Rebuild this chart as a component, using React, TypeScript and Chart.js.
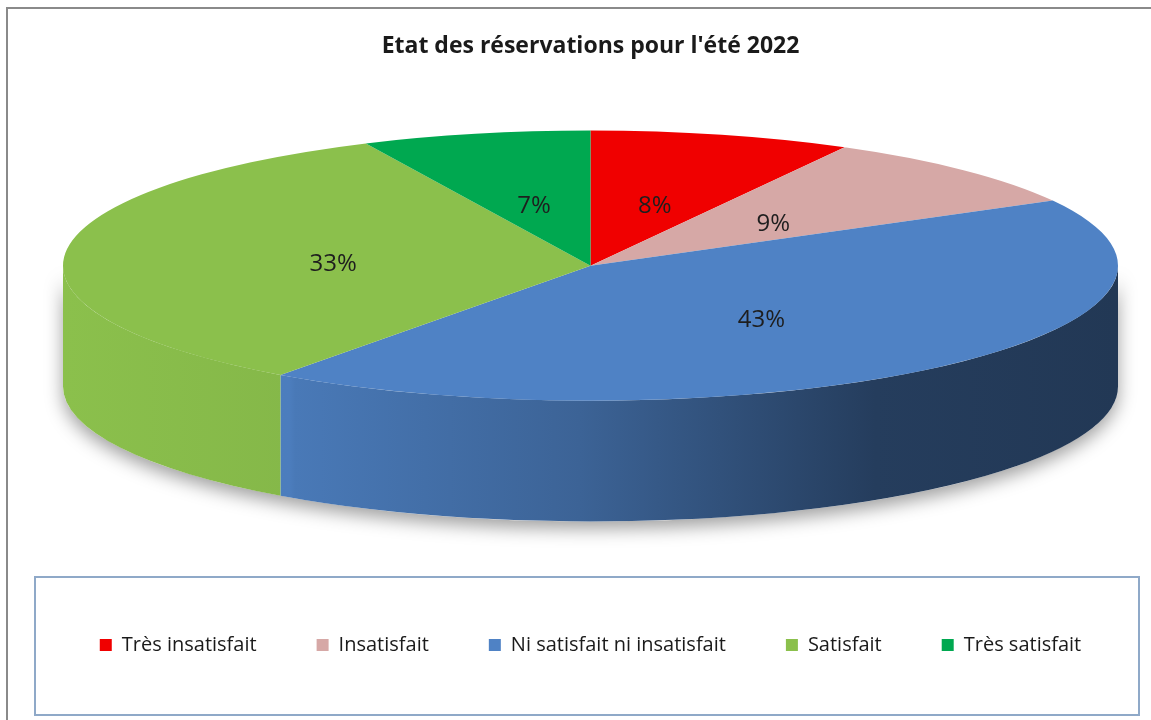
import React, { useEffect, useRef } from "react";
import { Chart, registerables } from "chart.js";

Chart.register(...registerables);

const TITLE = "Etat des réservations pour l'été 2022";
const categories = [
  "Très insatisfait",
  "Insatisfait",
  "Ni satisfait ni insatisfait",
  "Satisfait",
  "Très satisfait",
];
const values = [8, 9, 43, 33, 7];
const colors = ["#f00000", "#d6a8a6", "#4f82c5", "#8bc04c", "#00a850"];

// 3D look
const SIDE_INSET = 33; // horizontal gap between chart area and pie edge
const TILT = 0.256; // ry / rx
const DEPTH_RATIO = 0.229; // depth / rx
const LABEL_RADIUS = 0.49;
// lighting of the side wall across the width (0 = left edge, 1 = right edge)
const LIGHT: [number, number][] = [
  [0, 1.0],
  [0.215, 0.96],
  [0.22, 0.93],
  [0.49, 0.76],
  [0.77, 0.47],
  [1, 0.43],
];

function shade(hex: string, f: number) {
  const n = parseInt(hex.slice(1), 16);
  const r = Math.round(((n >> 16) & 255) * f);
  const g = Math.round(((n >> 8) & 255) * f);
  const b = Math.round((n & 255) * f);
  return `rgb(${r},${g},${b})`;
}

function geom(chart: any) {
  const a = chart.chartArea;
  const cx = (a.left + a.right) / 2;
  const rx = (a.right - a.left) / 2 - SIDE_INSET;
  const ry = rx * TILT;
  const cy = a.top + ry;
  const d = rx * DEPTH_RATIO;
  return { cx, cy, rx, ry, d };
}

const pie3d = {
  id: "pie3d",
  beforeDatasetsDraw(chart: any) {
    const ctx: CanvasRenderingContext2D = chart.ctx;
    const g = geom(chart);
    const meta = chart.getDatasetMeta(0);

    // soft shadow under the pie
    ctx.save();
    ctx.beginPath();
    ctx.ellipse(g.cx, g.cy, g.rx, g.ry, 0, 0, Math.PI);
    ctx.ellipse(g.cx, g.cy + g.d, g.rx, g.ry, 0, Math.PI, 0, true);
    ctx.closePath();
    ctx.shadowColor = "rgba(0,0,0,0.38)";
    ctx.shadowBlur = 18;
    ctx.shadowOffsetY = 7;
    ctx.fillStyle = "#ffffff";
    ctx.fill();
    ctx.restore();

    // side walls (front half only)
    meta.data.forEach((el: any, i: number) => {
      const a1 = Math.max(el.startAngle, 0);
      const a2 = Math.min(el.endAngle, Math.PI);
      if (a2 <= a1) return;
      const base = colors[i];
      const grad = ctx.createLinearGradient(g.cx - g.rx, 0, g.cx + g.rx, 0);
      LIGHT.forEach(([p, f]) => grad.addColorStop(p, shade(base, f)));
      ctx.save();
      ctx.beginPath();
      ctx.ellipse(g.cx, g.cy, g.rx, g.ry, 0, a1, a2);
      ctx.ellipse(g.cx, g.cy + g.d, g.rx, g.ry, 0, a2, a1, true);
      ctx.closePath();
      ctx.fillStyle = grad;
      ctx.fill();
      ctx.restore();
    });

    // squash the library's round pie into the ellipse of the top face
    const el0 = meta.data[0];
    const R = el0.outerRadius;
    ctx.save();
    ctx.translate(g.cx, g.cy);
    ctx.scale(g.rx / R, g.ry / R);
    ctx.translate(-el0.x, -el0.y);
  },
  afterDatasetsDraw(chart: any) {
    const ctx: CanvasRenderingContext2D = chart.ctx;
    ctx.restore();
    const g = geom(chart);
    const meta = chart.getDatasetMeta(0);
    const data = chart.data.datasets[0].data as number[];
    const total = data.reduce((s, v) => s + v, 0);
    ctx.save();
    ctx.font = "24px 'Open Sans', sans-serif";
    ctx.fillStyle = "#1e1e1e";
    ctx.textAlign = "center";
    ctx.textBaseline = "middle";
    meta.data.forEach((el: any, i: number) => {
      const mid = (el.startAngle + el.endAngle) / 2;
      const x = g.cx + g.rx * LABEL_RADIUS * Math.cos(mid);
      const y = g.cy + g.ry * LABEL_RADIUS * Math.sin(mid) + 5;
      ctx.fillText(`${Math.round((data[i] / total) * 100)}%`, x, y);
    });
    ctx.restore();
  },
  afterDraw(chart: any) {
    const ctx: CanvasRenderingContext2D = chart.ctx;
    ctx.save();
    // outer frame
    ctx.strokeStyle = "#8a8a8a";
    ctx.lineWidth = 2;
    ctx.strokeRect(7, 8, chart.width + 20, chart.height + 20);
    // legend frame
    ctx.strokeStyle = "#8fa9c8";
    ctx.lineWidth = 2;
    ctx.strokeRect(35, 577, chart.width - 35 - 12, chart.height - 577 - 5);
    ctx.restore();
  },
};

export default function App() {
  const ref = useRef<HTMLCanvasElement | null>(null);
  useEffect(() => {
    if (!ref.current) return;
    Chart.defaults.font.family = "'Open Sans', sans-serif";
    const chart = new Chart(ref.current, {
      type: "pie",
      data: {
        labels: categories,
        datasets: [
          {
            data: values,
            backgroundColor: colors,
            borderWidth: 0,
            clip: false as any,
          },
        ],
      },
      options: {
        animation: false,
        responsive: true,
        maintainAspectRatio: false,
        events: [],
        layout: { padding: { left: 30, right: 0, top: 0, bottom: 55 } },
        plugins: {
          title: {
            display: true,
            text: TITLE,
            color: "#1a1a1a",
            font: { size: 23, weight: "bold" },
            padding: { top: 33, bottom: 70 },
          },
          legend: {
            display: true,
            position: "bottom",
            labels: {
              boxWidth: 12,
              boxHeight: 12,
              padding: 60,
              color: "#1a1a1a",
              font: { size: 20 },
            },
          },
          tooltip: { enabled: false },
        },
      },
      plugins: [pie3d],
    });
    return () => chart.destroy();
  }, []);
  return (
    <div style={{ position: "fixed", left: 0, top: 0, width: 1151, height: 720, background: "#fff" }}>
      <canvas ref={ref} />
    </div>
  );
}
